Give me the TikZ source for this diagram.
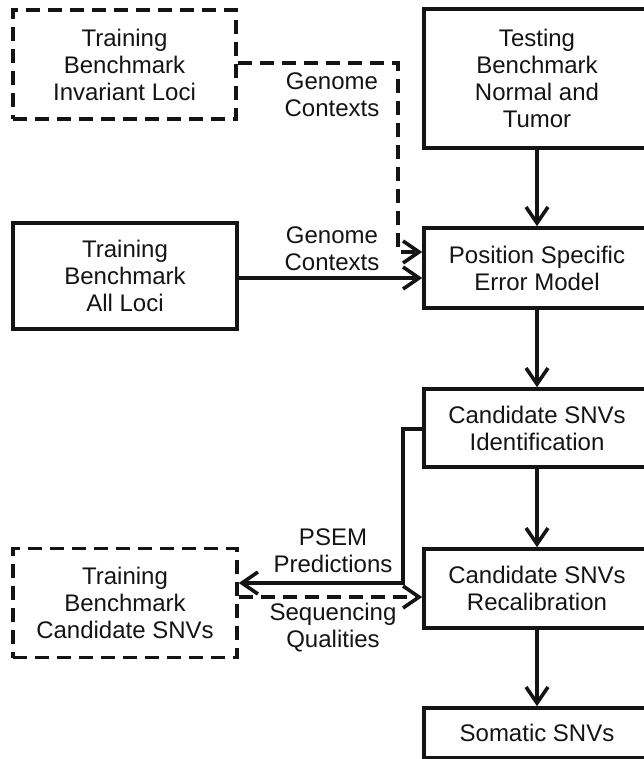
\documentclass[tikz,border=0pt]{standalone}
\usepackage{fontspec}
\setmainfont{Liberation Sans}
\usetikzlibrary{arrows.meta}

\begin{document}
\begin{tikzpicture}[x=1pt, y=-1pt,
  every node/.style={font=\fontsize{24}{27}\selectfont, align=center, inner sep=0pt, text=black!92},
  box/.style={draw=black!92, line width=3.6pt, rectangle},
  dbox/.style={box, dash pattern=on 14pt off 8pt},
  lbl/.style={},
  flow/.style={draw=black!92, line width=3.6pt,
    -{Straight Barb[length=16pt, width=22pt, line width=3.6pt]}},
  dflow/.style={flow, dash pattern=on 14pt off 8pt},
  link/.style={draw=black!92, line width=3.6pt}]

\useasboundingbox (0,0) rectangle (644,759);

% left column: training benchmarks
\node[dbox, minimum width=223pt, minimum height=109pt] (inv) at (124.5,64.5)
  {Training\\Benchmark\\Invariant Loci};
\node[box, minimum width=224pt, minimum height=106pt] (all) at (125,276)
  {Training\\Benchmark\\All Loci};
\node[dbox, minimum width=224pt, minimum height=109pt] (cand) at (125,603)
  {Training\\Benchmark\\Candidate SNVs};

% right column: testing pipeline (right edges run off the page)
\node[box, minimum width=226pt, minimum height=139pt] (test) at (537,78.5)
  {Testing\\Benchmark\\Normal and\\Tumor};
\node[box, minimum width=226pt, minimum height=80pt] (pos) at (537,268)
  {Position Specific\\Error Model};
\node[box, minimum width=226pt, minimum height=78pt] (ident) at (537,428)
  {Candidate SNVs\\Identification};
\node[box, minimum width=226pt, minimum height=79pt] (recal) at (537,588.5)
  {Candidate SNVs\\Recalibration};
\node[box, minimum width=226pt, minimum height=50pt] (som) at (537,733)
  {Somatic SNVs};

% connector labels
\node[lbl] (gc1) at (332,95) {Genome\\Contexts};
\node[lbl] (gc2) at (332,249) {Genome\\Contexts};
\node[lbl] (psem) at (333,551) {PSEM\\Predictions};
\node[lbl] (seq) at (333,628) {Sequencing\\Qualities};

% bend points
\coordinate (c1) at (398,63);
\coordinate (c2) at (398,252);
\coordinate (c3) at (403,429);
\coordinate (c4) at (403,583);

% main flow
\draw[flow] (test.south -| pos.north) -- (pos.north);
\draw[flow] (pos.south) -- (ident.north);
\draw[flow] (ident.south) -- (recal.north);
\draw[flow] (recal.south) -- (som.north);

% genome contexts into the error model
\draw[dflow] (inv.east |- c1) -- (c1) -- (c2) -- (c2 -| pos.west);
\draw[flow] (all.east |- 0,278) -- (pos.west |- 0,278);

% candidates sent back to the training set and recalibrated
\draw[flow] (ident.west |- c3) -- (c3) -- (c4) -- (c4 -| cand.east);
\draw[dflow] (cand.east |- 0,597) -- (recal.west |- 0,597);

\end{tikzpicture}
\end{document}
